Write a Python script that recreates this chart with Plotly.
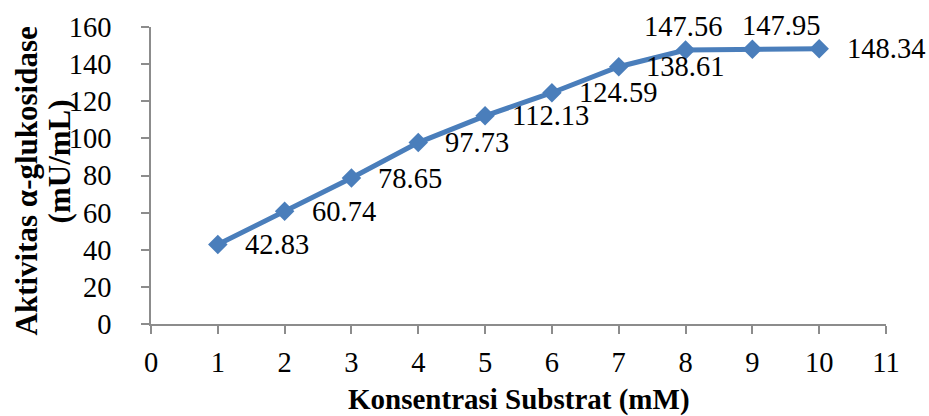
import plotly.graph_objects as go

# Substrate concentration (mM) vs. alpha-glucosidase activity (mU/mL)
konsentrasi = [1, 2, 3, 4, 5, 6, 7, 8, 9, 10]
aktivitas = [42.83, 60.74, 78.65, 97.73, 112.13, 124.59, 138.61, 147.56, 147.95, 148.34]

# Data-label placement (pixel offsets from each point)
label_anchor = ["left", "left", "left", "left", "left", "left", "left", "center", "center", "left"]
label_dx = [25, 25, 25, 25, 25, 25, 25, -3, 29, 26]
label_dy = [0, 0, 0, 0, 0, 0, 0, 24, 24, 0]

x_ticks = list(range(0, 12))
y_ticks = list(range(0, 161, 20))

SERIF = "Liberation Serif, Times New Roman, serif"
BLUE = "#4A7EBB"
AXIS_GRAY = "#8C8C8C"
TXT = 28.5

fig = go.Figure()
fig.add_trace(go.Scatter(
    x=konsentrasi,
    y=aktivitas,
    mode="lines+markers",
    line=dict(color=BLUE, width=5),
    marker=dict(symbol="diamond", size=15, color=BLUE),
    hoverinfo="x+y",
    showlegend=False,
))

annotations = []
for xv, yv, anc, dx, dy in zip(konsentrasi, aktivitas, label_anchor, label_dx, label_dy):
    annotations.append(dict(x=xv, y=yv, xref="x", yref="y", text=f"{yv:.2f}",
                            showarrow=False, xanchor=anc, yanchor="middle",
                            xshift=dx, yshift=dy,
                            font=dict(family=SERIF, size=TXT, color="black")))

# Axis titles
annotations.append(dict(x=0.5, y=-0.255, xref="paper", yref="paper",
                        text="<b>Konsentrasi Substrat (mM)</b>", showarrow=False,
                        xanchor="center", yanchor="middle",
                        font=dict(family=SERIF, size=29, color="black")))
annotations.append(dict(x=-0.170, y=0.48, xref="paper", yref="paper",
                        text="<b>Aktivitas α-glukosidase</b>", showarrow=False, textangle=-90,
                        xanchor="center", yanchor="middle",
                        font=dict(family=SERIF, size=31, color="black")))
annotations.append(dict(x=-0.124, y=0.547, xref="paper", yref="paper",
                        text="<b>(mU/mL)</b>", showarrow=False, textangle=-90,
                        xanchor="center", yanchor="middle",
                        font=dict(family=SERIF, size=31, color="black")))

fig.update_layout(
    width=929, height=416,
    margin=dict(l=151, r=43, t=24, b=92),
    paper_bgcolor="white", plot_bgcolor="white",
    font=dict(family=SERIF, size=TXT, color="black"),
    annotations=annotations,
    xaxis=dict(
        range=[0, 11], tickvals=x_ticks, ticktext=[str(v) for v in x_ticks],
        showgrid=False, zeroline=False, showline=True, linecolor=AXIS_GRAY, linewidth=1.5,
        ticks="outside", ticklen=8, tickwidth=1.5, tickcolor=AXIS_GRAY,
        tickfont=dict(family=SERIF, size=TXT, color="black"), ticklabelstandoff=4,
    ),
    yaxis=dict(
        range=[0, 160], tickvals=y_ticks, ticktext=[str(v) for v in y_ticks],
        showgrid=False, zeroline=False, showline=True, linecolor=AXIS_GRAY, linewidth=1.5,
        ticks="outside", ticklen=8, tickwidth=1.5, tickcolor=AXIS_GRAY,
        tickfont=dict(family=SERIF, size=TXT, color="black"), ticklabelstandoff=24,
    ),
)

fig.write_html("out.html")
